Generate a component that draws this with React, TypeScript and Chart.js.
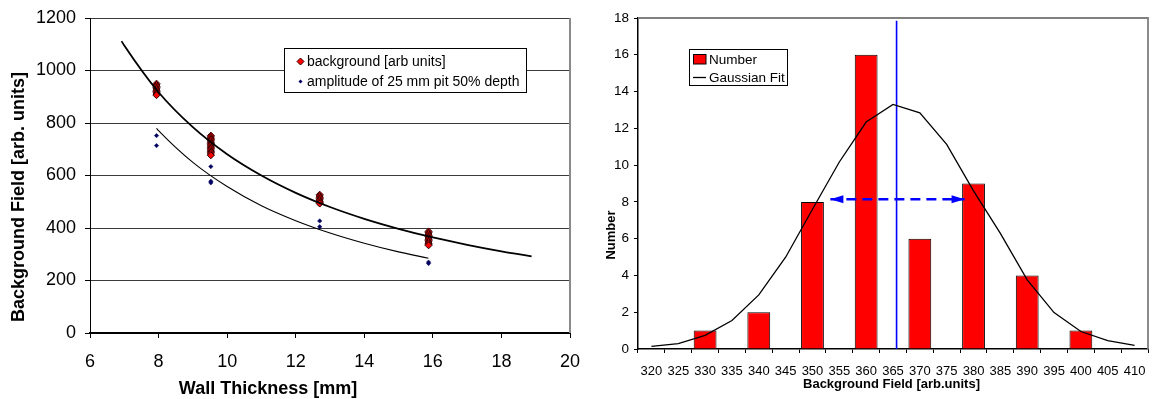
import React, { useEffect, useRef } from 'react';
import { Chart, registerables } from 'chart.js';
Chart.register(...registerables);

const FONT = '"Liberation Sans", Arial, Helvetica, sans-serif';

// ---------- Left chart data ----------
const thicknessMm = [7.94, 9.525, 12.7, 15.875];
const bg_7_9 = [950, 945, 940, 935, 930, 925, 920, 915, 910, 906];
const bg_9_5 = [752, 747, 742, 737, 732, 727, 722, 717, 712, 707, 702, 697, 692, 687, 682, 677];
const bg_12_7 = [527, 522, 517, 512, 507, 502, 497, 493];
const bg_15_9 = [387, 382, 377, 372, 367, 362, 357, 352, 347, 342, 338, 334];
const amp_7_9 = [752, 714];
const amp_9_5 = [634, 578, 572];
const amp_12_7 = [427, 405];
const amp_15_9 = [270, 265];
const fitUpperX = [6.92, 7, 8, 9, 10, 11, 12, 13, 14, 15, 16, 17, 18, 18.88];
const fitUpperY = [1112, 1095, 917, 784, 681, 600, 534, 480, 435, 397, 364, 336, 311, 292];
const fitLowerX = [7.94, 8, 9, 10, 11, 12, 13, 14, 15, 15.87];
const fitLowerY = [780, 771, 650, 558, 485, 428, 381, 342, 309, 285];
const leftLegendLabels = ['background [arb units]', 'amplitude of 25 mm pit 50% depth'];
const leftXTitle = 'Wall Thickness [mm]';
const leftYTitle = 'Background Field [arb. units]';

// ---------- Right chart data ----------
const fieldBins = ['320', '325', '330', '335', '340', '345', '350', '355', '360', '365', '370', '375', '380', '385', '390', '395', '400', '405', '410'];
const binCounts = [0, 0, 1, 0, 2, 0, 8, 0, 16, 0, 6, 0, 9, 0, 4, 0, 1, 0, 0];
const gaussFit = [0.14, 0.29, 0.74, 1.55, 2.94, 4.99, 7.6, 10.17, 12.34, 13.3, 12.84, 11.13, 8.6, 6.29, 3.76, 1.98, 0.95, 0.45, 0.2];
const meanField = 365.8;
const meanLineTop = 17.85;
const fwhmLow = 351;
const fwhmHigh = 381;
const fwhmLevel = 8.15;
const rightLegendLabels = ['Number', 'Gaussian Fit'];
const rightXTitle = 'Background Field [arb.units]';
const rightYTitle = 'Number';

function clusterPoints(groups: number[][]) {
  const pts: { x: number; y: number }[] = [];
  groups.forEach((g, i) => g.forEach((v) => pts.push({ x: thicknessMm[i], y: v })));
  return pts;
}

function leftConfig(): any {
  const decor = {
    id: 'leftDecor',
    afterDraw(chart: any) {
      const { ctx, chartArea: a } = chart;
      ctx.save();
      // plot frame (right side)
      ctx.strokeStyle = '#8a8a8a';
      ctx.lineWidth = 2;
      ctx.beginPath();
      ctx.moveTo(a.right, a.top);
      ctx.lineTo(a.right, a.bottom);
      ctx.stroke();
      // legend
      ctx.fillStyle = '#fff';
      ctx.fillRect(284.5, 48.5, 242, 44);
      ctx.strokeStyle = '#000';
      ctx.lineWidth = 1;
      ctx.strokeRect(284.5, 48.5, 242, 44);
      ctx.beginPath();
      ctx.moveTo(300.5, 58);
      ctx.lineTo(304, 61.5);
      ctx.lineTo(300.5, 65);
      ctx.lineTo(297, 61.5);
      ctx.closePath();
      ctx.fillStyle = '#ff0000';
      ctx.fill();
      ctx.strokeStyle = '#400000';
      ctx.stroke();
      ctx.beginPath();
      ctx.moveTo(300.5, 79.5);
      ctx.lineTo(302.5, 81.5);
      ctx.lineTo(300.5, 83.5);
      ctx.lineTo(298.5, 81.5);
      ctx.closePath();
      ctx.fillStyle = '#000060';
      ctx.fill();
      ctx.fillStyle = '#000';
      ctx.font = `14px ${FONT}`;
      ctx.textAlign = 'left';
      ctx.textBaseline = 'middle';
      ctx.fillText(leftLegendLabels[0], 307, 62);
      ctx.fillText(leftLegendLabels[1], 307, 82);
      // axis captions
      ctx.font = `bold 18px ${FONT}`;
      ctx.textAlign = 'center';
      ctx.fillText(leftXTitle, 268, 389);
      ctx.translate(19, 197);
      ctx.rotate(-Math.PI / 2);
      ctx.fillText(leftYTitle, 0, 0);
      ctx.restore();
    },
  };
  return {
    type: 'scatter',
    data: {
      datasets: [
        {
          data: fitUpperX.map((x, i) => ({ x, y: fitUpperY[i] })),
          showLine: true,
          borderColor: '#000',
          borderWidth: 1.8,
          pointRadius: 0,
          cubicInterpolationMode: 'monotone',
        },
        {
          data: fitLowerX.map((x, i) => ({ x, y: fitLowerY[i] })),
          showLine: true,
          borderColor: '#000',
          borderWidth: 1.1,
          pointRadius: 0,
          cubicInterpolationMode: 'monotone',
        },
        {
          data: clusterPoints([bg_7_9, bg_9_5, bg_12_7, bg_15_9]),
          pointStyle: 'rectRot',
          pointRadius: 3.5,
          backgroundColor: '#ff0000',
          borderColor: '#300000',
          borderWidth: 1,
        },
        {
          data: clusterPoints([amp_7_9, amp_9_5, amp_12_7, amp_15_9]),
          pointStyle: 'rectRot',
          pointRadius: 2.2,
          backgroundColor: '#000060',
          borderColor: '#000060',
          borderWidth: 0.5,
        },
      ],
    },
    options: {
      responsive: false,
      animation: false,
      devicePixelRatio: 1,
      layout: { padding: { top: 18, right: 10, bottom: 0, left: 0 } },
      plugins: { legend: { display: false }, tooltip: { enabled: false } },
      scales: {
        x: {
          type: 'linear',
          min: 6,
          max: 20,
          afterFit: (s: any) => { s.height = 66; s.paddingLeft = 0; s.paddingRight = 0; },
          ticks: { stepSize: 2, color: '#000', font: { size: 18, family: FONT }, padding: 13, maxRotation: 0, callback: (v: any) => String(v) },
          grid: { drawOnChartArea: false, drawTicks: true, tickLength: 5, tickColor: '#000' },
          border: { color: '#000', width: 2 },
        },
        y: {
          min: 0,
          max: 1200,
          afterFit: (s: any) => { s.width = 90; s.paddingTop = 0; s.paddingBottom = 0; },
          ticks: { stepSize: 200, color: '#000', font: { size: 18, family: FONT }, padding: 9, callback: (v: any) => String(v) },
          grid: { color: '#3a3a3a', lineWidth: 1, drawTicks: true, tickLength: 5, tickColor: '#000' },
          border: { color: '#000', width: 1 },
        },
      },
    },
    plugins: [decor],
  };
}

function rightConfig(): any {
  const decor = {
    id: 'rightDecor',
    afterDatasetsDraw(chart: any) {
      const { ctx } = chart;
      const meta = chart.getDatasetMeta(3);
      const [p0, p1] = meta.data;
      if (!p0 || !p1) return;
      ctx.save();
      ctx.fillStyle = '#0000ff';
      ctx.beginPath();
      ctx.moveTo(p0.x, p0.y);
      ctx.lineTo(p0.x + 13, p0.y - 4);
      ctx.lineTo(p0.x + 13, p0.y + 4);
      ctx.closePath();
      ctx.fill();
      ctx.beginPath();
      ctx.moveTo(p1.x, p1.y);
      ctx.lineTo(p1.x - 13, p1.y - 4);
      ctx.lineTo(p1.x - 13, p1.y + 4);
      ctx.closePath();
      ctx.fill();
      ctx.restore();
    },
    afterDraw(chart: any) {
      const { ctx, chartArea: a } = chart;
      ctx.save();
      // frame top / right
      ctx.strokeStyle = '#808080';
      ctx.lineWidth = 1.8;
      ctx.beginPath();
      ctx.moveTo(a.left, a.top);
      ctx.lineTo(a.right, a.top);
      ctx.lineTo(a.right, a.bottom);
      ctx.stroke();
      // legend
      ctx.fillStyle = '#fff';
      ctx.fillRect(109.5, 49.5, 98, 36);
      ctx.strokeStyle = '#000';
      ctx.lineWidth = 1;
      ctx.strokeRect(109.5, 49.5, 98, 36);
      ctx.fillStyle = '#ff0000';
      ctx.fillRect(113.5, 54.5, 12.5, 9.5);
      ctx.strokeRect(113.5, 54.5, 12.5, 9.5);
      ctx.lineWidth = 1.3;
      ctx.beginPath();
      ctx.moveTo(113, 77.5);
      ctx.lineTo(126, 77.5);
      ctx.stroke();
      ctx.fillStyle = '#000';
      ctx.font = `13.5px ${FONT}`;
      ctx.textAlign = 'left';
      ctx.textBaseline = 'middle';
      ctx.fillText(rightLegendLabels[0], 129, 60);
      ctx.fillText(rightLegendLabels[1], 129, 78);
      // captions
      ctx.font = `bold 13px ${FONT}`;
      ctx.textAlign = 'center';
      ctx.fillText(rightXTitle, 311.5, 384);
      ctx.translate(31.5, 235);
      ctx.rotate(-Math.PI / 2);
      ctx.fillText(rightYTitle, 0, 0);
      ctx.restore();
    },
  };
  return {
    type: 'bar',
    data: {
      labels: fieldBins,
      datasets: [
        {
          type: 'line',
          data: gaussFit,
          borderColor: '#000',
          borderWidth: 1.3,
          pointRadius: 0,
          tension: 0,
          order: 0,
        },
        {
          type: 'line',
          xAxisID: 'xv',
          data: [{ x: meanField, y: 0 }, { x: meanField, y: meanLineTop }],
          borderColor: '#0000ff',
          borderWidth: 1.6,
          pointRadius: 0,
          order: 0,
        },
        {
          type: 'bar',
          data: binCounts.map((c) => (c === 0 ? null : c)),
          backgroundColor: '#ff0000',
          borderColor: '#000',
          borderWidth: 1,
          grouped: false,
          barPercentage: 0.85,
          categoryPercentage: 1,
          order: 2,
        },
        {
          type: 'line',
          xAxisID: 'xv',
          data: [{ x: fwhmLow, y: fwhmLevel }, { x: fwhmHigh, y: fwhmLevel }],
          borderColor: '#0000ff',
          borderWidth: 2.5,
          borderDash: [10, 6],
          pointRadius: 0,
          order: 0,
        },
      ],
    },
    options: {
      responsive: false,
      animation: false,
      devicePixelRatio: 1,
      layout: { padding: { top: 18, right: 4, bottom: 0, left: 0 } },
      plugins: { legend: { display: false }, tooltip: { enabled: false } },
      scales: {
        x: {
          type: 'category',
          offset: true,
          afterFit: (s: any) => { s.height = 50; s.paddingLeft = 0; s.paddingRight = 0; },
          ticks: { autoSkip: false, maxRotation: 0, color: '#000', font: { size: 13, family: FONT }, padding: 11 },
          grid: { offset: true, drawOnChartArea: false, drawTicks: true, tickLength: 4, tickColor: '#000' },
          border: { color: '#000', width: 1.5 },
        },
        xv: {
          type: 'linear',
          display: false,
          min: 317.5,
          max: 412.5,
        },
        y: {
          min: 0,
          max: 18,
          afterFit: (s: any) => { s.width = 58; s.paddingTop = 0; s.paddingBottom = 0; },
          ticks: { stepSize: 2, color: '#000', font: { size: 13.5, family: FONT }, padding: 5 },
          grid: { drawOnChartArea: false, drawTicks: true, tickLength: 4, tickColor: '#000' },
          border: { color: '#000', width: 1.5 },
        },
      },
    },
    plugins: [decor],
  };
}

export default function App() {
  const leftRef = useRef<HTMLCanvasElement>(null);
  const rightRef = useRef<HTMLCanvasElement>(null);
  useEffect(() => {
    document.body.style.margin = '0';
    Chart.defaults.font.family = FONT;
    const c1 = new Chart(leftRef.current as HTMLCanvasElement, leftConfig());
    const c2 = new Chart(rightRef.current as HTMLCanvasElement, rightConfig());
    return () => {
      c1.destroy();
      c2.destroy();
    };
  }, []);
  return (
    <div style={{ position: 'fixed', left: 0, top: 0, width: 1152, height: 399, background: '#fff', overflow: 'hidden' }}>
      <canvas ref={leftRef} width={580} height={399} style={{ position: 'absolute', left: 0, top: 0, width: 580, height: 399 }} />
      <canvas ref={rightRef} width={572} height={399} style={{ position: 'absolute', left: 580, top: 0, width: 572, height: 399 }} />
    </div>
  );
}
